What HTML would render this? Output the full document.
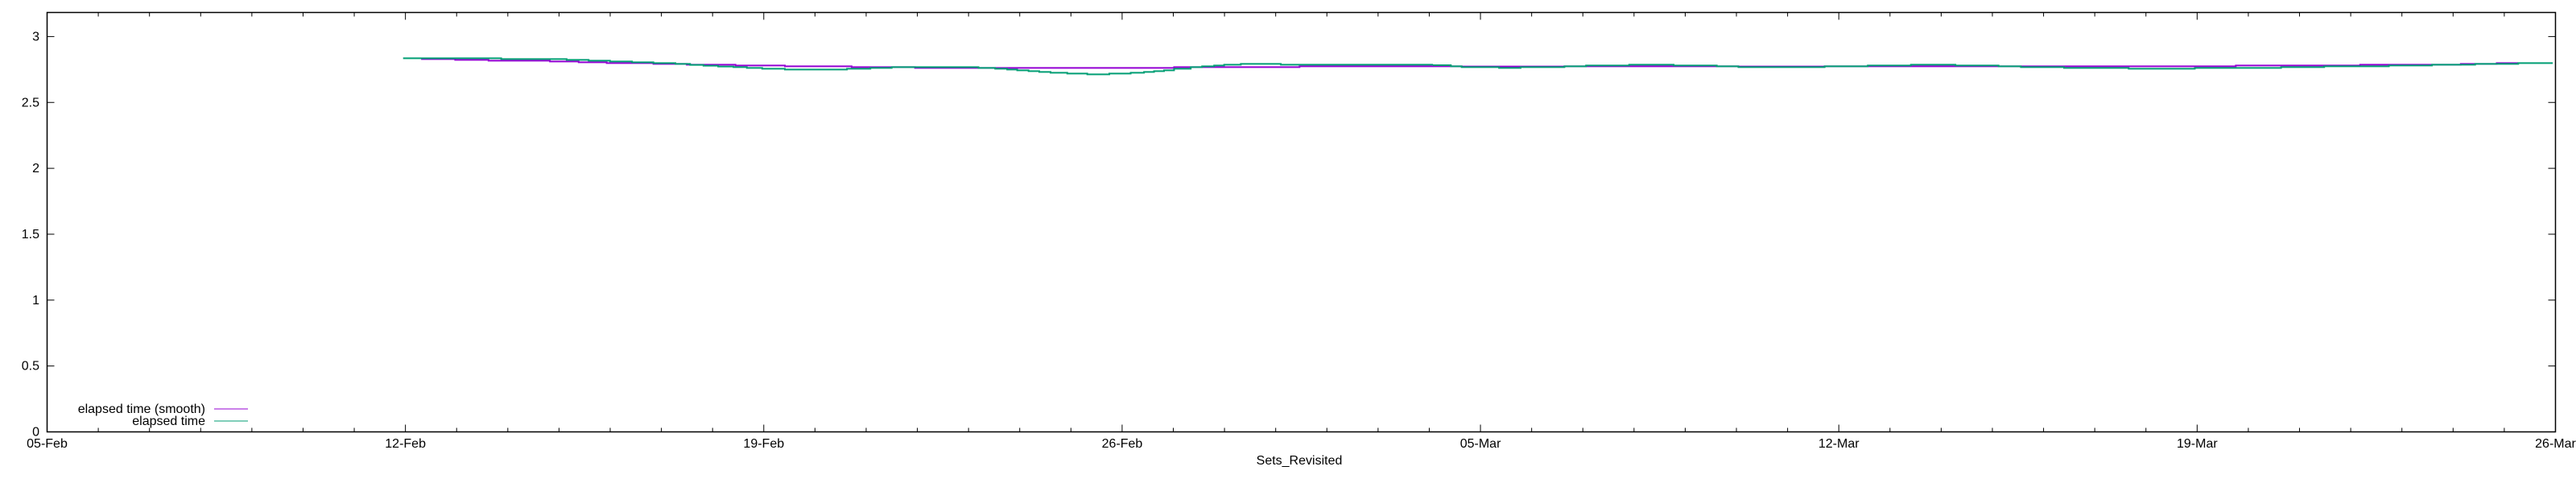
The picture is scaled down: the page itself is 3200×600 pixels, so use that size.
<!DOCTYPE html>
<html><head><meta charset="utf-8"><style>
html,body{margin:0;padding:0;background:#fff;}
svg{display:block;font-family:"Liberation Sans",sans-serif;}
</style></head><body>
<svg width="3200" height="600" viewBox="0 0 3200 600" xmlns="http://www.w3.org/2000/svg">
<rect width="3200" height="600" fill="#fff"/>
<g id="ticks" stroke="#000" stroke-width="1"></g>
<rect x="58.5" y="15.5" width="3116" height="521" fill="none" stroke="#000" stroke-width="1.5"/>
<g id="labels" font-size="16" fill="#000"></g>
<text x="1614" y="577" font-size="16" text-anchor="middle">Sets_Revisited</text>
<text x="255" y="513" font-size="16" text-anchor="end">elapsed time (smooth)</text>
<text x="255" y="528" font-size="16" text-anchor="end">elapsed time</text>
<line x1="266" y1="508" x2="308" y2="508" stroke="#9400d3" stroke-width="1"/>
<line x1="266" y1="523" x2="308" y2="523" stroke="#009e73" stroke-width="1"/>
<g fill="none" stroke-width="2" transform="translate(480,50) scale(0.8292,0.3333)">
<path vector-effect="non-scaling-stroke" stroke="#9400d3" d="M52,70H103V73H153V76H245V79H288V82H330V85H400V88H450V91H523V94H597V97H697V100H792V103H1180V100H1368V97H1568"/>
<path vector-effect="non-scaling-stroke" stroke="#009e73" d="M25,67H172V70H270V73H303V76H335V79H368V82H400V85H433V88H455V92H475V95H497V98H520V100H540V103H563V106H597V109H690V106H725V103H757V100H887V103H912V106H930V109H945V112H962V115H978V118H995V121H1020V124H1050V127H1083V124H1115V121H1135V118H1150V115H1165V112H1180V106H1205V100H1222V97H1240V94H1255V91H1280V88H1340V91H1568"/>
</g>
<g fill="none" stroke-width="2" transform="translate(1780,50) scale(0.8929,0.3333)">
<path vector-effect="non-scaling-stroke" stroke="#9400d3" d="M0,97H40V98H183V97H425V98H545V97H1117V94H1290V91H1430V88H1480V85H1510"/>
<path vector-effect="non-scaling-stroke" stroke="#009e73" d="M0,93H25V97H40V100H92V103H122V100H183V97H213V94H273V91H335V94H395V97H425V100H545V97H605V94H665V91H727V94H787V97H818V100H878V103H968V106H1060V103H1180V100H1240V97H1330V94H1390V91H1450V88H1510V85H1558"/>
</g>
<script>
var t=document.getElementById('ticks'),l=document.getElementById('labels'),ns='http://www.w3.org/2000/svg';
function el(p,tag,a,txt){var e=document.createElementNS(ns,tag);for(var k in a)e.setAttribute(k,a[k]);if(txt)e.textContent=txt;p.appendChild(e);}
var x0=58.5,x1=3174.5,d=(x1-x0)/49;
var names={0:'05-Feb',7:'12-Feb',14:'19-Feb',21:'26-Feb',28:'05-Mar',35:'12-Mar',42:'19-Mar',49:'26-Mar'};
for(var i=0;i<=49;i++){var x=x0+i*d,len=(i%7==0)?9:5;
el(t,'line',{x1:x,y1:536.5,x2:x,y2:536.5-len});el(t,'line',{x1:x,y1:15.5,x2:x,y2:15.5+len});
if(names[i]!==undefined)el(l,'text',{x:x,y:556,'text-anchor':'middle'},names[i]);}
var ys=['0','0.5','1','1.5','2','2.5','3'];
for(var j=0;j<7;j++){var y=536.5-j*0.5*163.7;
el(t,'line',{x1:58.5,y1:y,x2:67.5,y2:y});el(t,'line',{x1:3174.5,y1:y,x2:3165.5,y2:y});
el(l,'text',{x:49,y:y+5,'text-anchor':'end'},ys[j]);}
</script>
</svg>
</body></html>
